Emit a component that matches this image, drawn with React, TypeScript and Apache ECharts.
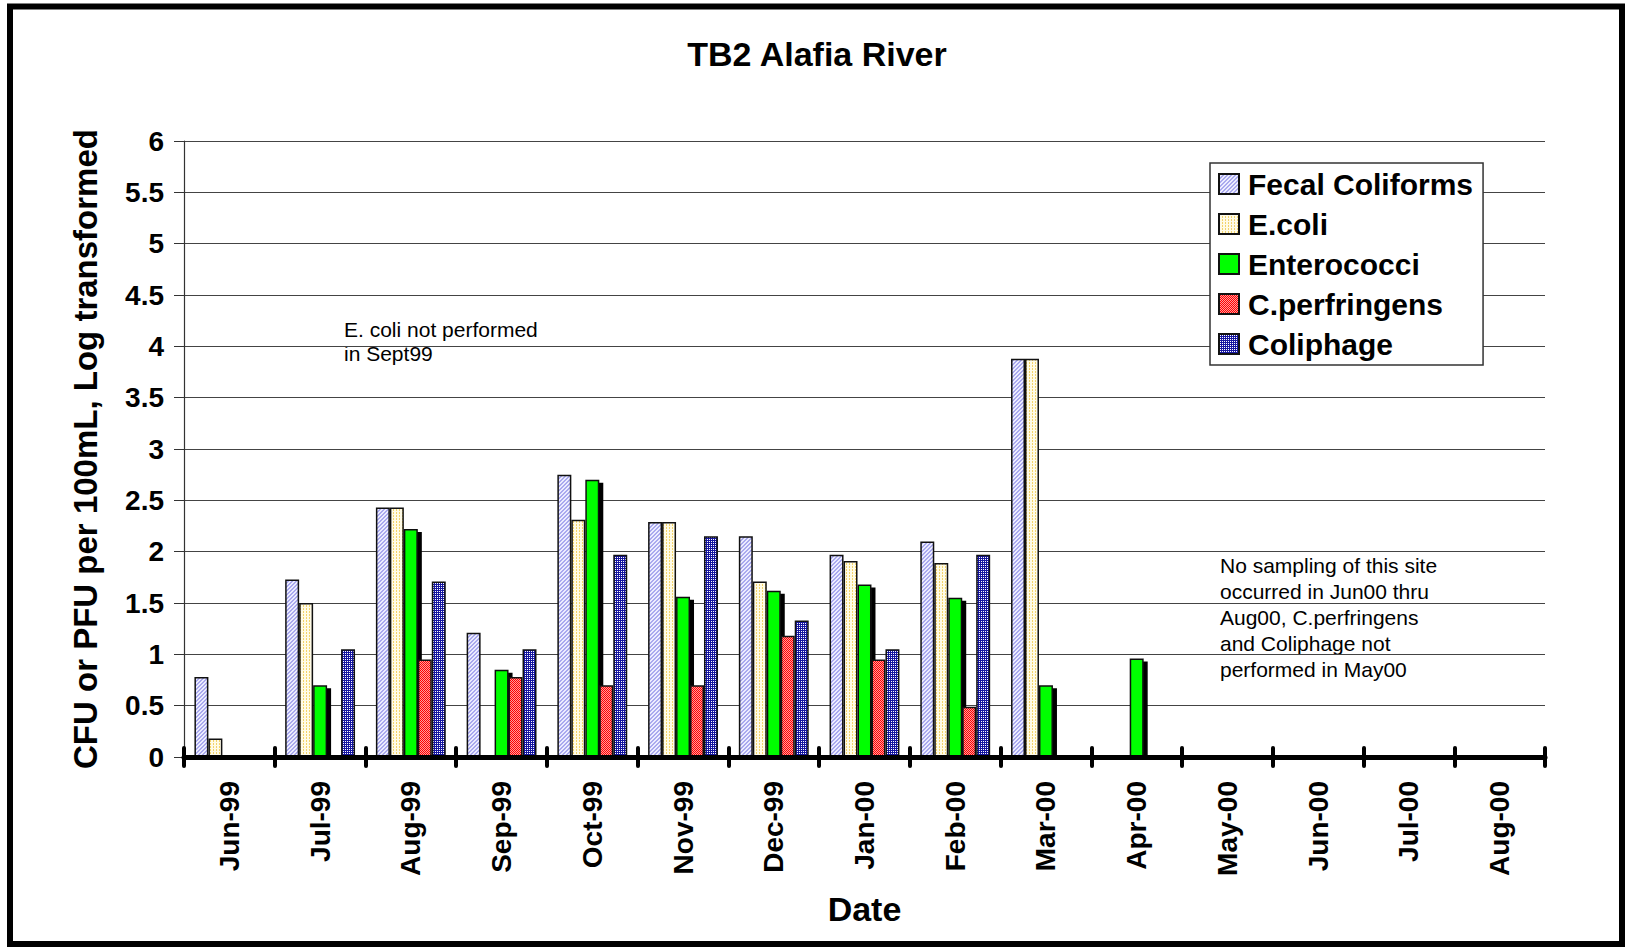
import React, { useEffect, useRef } from "react";
import * as echarts from "echarts";

// Sampling months along the category axis
const months = [
  "Jun-99", "Jul-99", "Aug-99", "Sep-99", "Oct-99", "Nov-99", "Dec-99",
  "Jan-00", "Feb-00", "Mar-00", "Apr-00", "May-00", "Jun-00", "Jul-00", "Aug-00",
];

// Log-transformed counts (CFU or PFU per 100 mL); null = not sampled / not performed
const fecalColiforms = [0.78, 1.73, 2.43, 1.21, 2.75, 2.29, 2.15, 1.97, 2.10, 3.88, null, null, null, null, null];
const eColi = [0.18, 1.50, 2.43, null, 2.31, 2.29, 1.71, 1.91, 1.89, 3.88, null, null, null, null, null];
const enterococci = [null, 0.70, 2.22, 0.85, 2.70, 1.56, 1.62, 1.68, 1.55, 0.70, 0.96, null, null, null, null];
const cPerfringens = [null, null, 0.95, 0.78, 0.70, 0.70, 1.18, 0.95, 0.49, null, null, null, null, null, null];
const coliphage = [null, 1.05, 1.71, 1.05, 1.97, 2.15, 1.33, 1.05, 1.97, null, null, null, null, null, null];

const yTicks = { min: 0, max: 6, interval: 0.5 };

const FONT = "'Liberation Sans', Arial, Helvetica, sans-serif";

// Small pixel tiles used as repeating fills for the bars
function tile(size: number, paint: (x: number, y: number) => string) {
  const c = document.createElement("canvas");
  c.width = size;
  c.height = size;
  const ctx = c.getContext("2d")!;
  for (let y = 0; y < size; y++) {
    for (let x = 0; x < size; x++) {
      ctx.fillStyle = paint(x, y);
      ctx.fillRect(x, y, 1, 1);
    }
  }
  return { image: c.toDataURL(), repeat: "repeat", imageWidth: size, imageHeight: size } as any;
}

export default function App() {
  const ref = useRef<HTMLDivElement>(null);

  useEffect(() => {
    if (!ref.current) return;
    const chart = echarts.init(ref.current, null, { renderer: "svg" });

    const hatch = tile(4, (x, y) => ((x + y) % 4 < 2 ? "#a9a9ee" : "#ececff"));
    const dots = tile(3, (x, y) => (x % 3 === 0 && y % 2 === 0 ? "#f3d36a" : "#fffbe6"));
    const checker = tile(2, (x, y) => ((x + y) % 2 === 0 ? "#ff0000" : "#ff9c9c"));
    const mesh = tile(2, (x, y) => (x === 1 && y === 1 ? "#ffffff" : "#1616a0"));

    const border = { borderColor: "#111", borderWidth: 1.5 };
    const gridBox = { left: 184, right: 85, top: 141, bottom: 194 };
    const tickStyle = { color: "#000", width: 4, cap: "round" };

    const bar = (name: string, data: (number | null)[], itemStyle: any) => ({
      name,
      type: "bar",
      data,
      barGap: "0%",
      barCategoryGap: "23%",
      itemStyle: { ...border, ...itemStyle },
      silent: true,
    });

    chart.setOption({
      animation: false,
      backgroundColor: "#fff",
      title: {
        text: "TB2 Alafia River",
        left: 817,
        textAlign: "center",
        top: 37,
        padding: 0,
        textStyle: { fontFamily: FONT, fontSize: 34, fontWeight: "bold", color: "#000" },
      },
      legend: {
        orient: "vertical",
        left: 1210,
        top: 163,
        padding: [6, 10, 6, 8],
        backgroundColor: "#fff",
        borderColor: "#333",
        borderWidth: 1.5,
        borderRadius: 0,
        itemWidth: 20,
        itemHeight: 20,
        itemGap: 10,
        icon: "rect",
        textStyle: {
          fontFamily: FONT,
          fontSize: 30,
          fontWeight: "bold",
          color: "#000",
          lineHeight: 30,
          padding: [0, 0, 0, 4],
        },
        data: [
          "Fecal Coliforms",
          "E.coli",
          {
            name: "Enterococci",
            itemStyle: { shadowColor: "transparent", shadowOffsetX: 0, shadowOffsetY: 0, shadowBlur: 0 },
          },
          "C.perfringens",
          "Coliphage",
        ],
      },
      grid: [
        { ...gridBox },
        { ...gridBox },
      ],
      xAxis: [
        {
          type: "category",
          gridIndex: 0,
          data: months,
          z: 5,
          name: "Date",
          nameLocation: "middle",
          nameGap: 135,
          nameTextStyle: { fontFamily: FONT, fontSize: 34, fontWeight: "bold", color: "#000" },
          axisLine: { show: true, lineStyle: { color: "#000", width: 5 } },
          axisTick: { show: true, interval: 0, length: 9, lineStyle: tickStyle },
          axisLabel: {
            rotate: 90,
            margin: 24,
            interval: 0,
            fontFamily: FONT,
            fontSize: 28,
            fontWeight: "bold",
            color: "#000",
          },
          splitLine: { show: false },
        },
        {
          // upper halves of the category tick marks
          type: "category",
          gridIndex: 1,
          data: months,
          z: 5,
          axisLine: { show: false },
          axisTick: { show: true, interval: 0, inside: true, length: 9, lineStyle: tickStyle },
          axisLabel: { show: false },
          splitLine: { show: false },
        },
      ],
      yAxis: [
        {
          type: "value",
          gridIndex: 0,
          ...yTicks,
          name: "CFU or PFU per 100mL, Log transformed",
          nameLocation: "middle",
          nameGap: 82,
          nameTextStyle: { fontFamily: FONT, fontSize: 33, fontWeight: "bold", color: "#000" },
          axisLine: { show: true, lineStyle: { color: "#333", width: 1.2 } },
          axisTick: { show: true, length: 10, lineStyle: { color: "#333", width: 1 } },
          axisLabel: {
            margin: 20,
            fontFamily: FONT,
            fontSize: 28,
            fontWeight: "bold",
            color: "#000",
          },
          splitLine: { show: true, lineStyle: { color: "#444", width: 1 } },
        },
        {
          type: "value",
          gridIndex: 1,
          ...yTicks,
          show: false,
          splitLine: { show: false },
        },
      ],
      series: [
        bar("Fecal Coliforms", fecalColiforms, { color: hatch }),
        bar("E.coli", eColi, { color: dots }),
        bar("Enterococci", enterococci, {
          color: "#00ff00",
          shadowColor: "#000",
          shadowBlur: 0,
          shadowOffsetX: 4,
          shadowOffsetY: 3,
        }),
        bar("C.perfringens", cPerfringens, { color: checker }),
        bar("Coliphage", coliphage, { color: mesh }),
      ],
      graphic: [
        {
          type: "rect",
          shape: { x: 10, y: 6.5, width: 1612, height: 937.5 },
          style: { fill: "none", stroke: "#000", lineWidth: 6 },
          silent: true,
        },
        {
          type: "text",
          left: 344,
          top: 317,
          style: {
            text: "E. coli not performed\nin Sept99",
            font: `21px ${FONT}`,
            lineHeight: 24,
            fill: "#000",
          },
          silent: true,
        },
        {
          type: "text",
          left: 1220,
          top: 552,
          style: {
            text:
              "No sampling of this site\noccurred in Jun00 thru\nAug00, C.perfringens\nand Coliphage not\nperformed in May00",
            font: `21px ${FONT}`,
            lineHeight: 26,
            fill: "#000",
          },
          silent: true,
        },
      ],
    });

    return () => chart.dispose();
  }, []);

  return (
    <div
      ref={ref}
      style={{ position: "absolute", left: 0, top: 0, width: 1630, height: 951 }}
    />
  );
}
